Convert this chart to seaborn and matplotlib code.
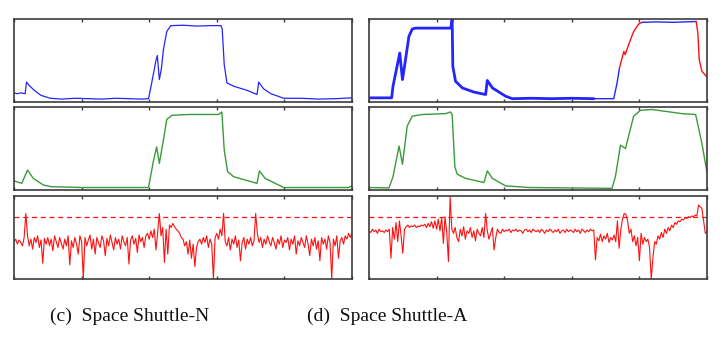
import numpy as np
import pandas as pd
import matplotlib
matplotlib.use("Agg")
import matplotlib.pyplot as plt
import seaborn as sns

# ---------------- data (normalised 0..1, x in 0..1000) ----------------
TL_x = [0, 10, 20, 33, 37, 45, 60, 80, 107, 140, 180, 220, 260, 300, 340, 380, 398, 405, 413, 420, 424,
        430, 436, 442, 452, 464, 500, 540, 580, 612, 616, 622, 630, 650, 690, 719, 724, 738, 760, 798,
        850, 900, 950, 1000]
TL_y = [0.11, 0.10, 0.11, 0.10, 0.24, 0.20, 0.14, 0.08, 0.045, 0.035, 0.045, 0.04, 0.035, 0.045, 0.04,
        0.035, 0.04, 0.18, 0.35, 0.50, 0.56, 0.27, 0.40, 0.63, 0.85, 0.92, 0.925, 0.915, 0.92, 0.92, 0.88,
        0.45, 0.23, 0.19, 0.14, 0.09, 0.24, 0.16, 0.10, 0.045, 0.045, 0.035, 0.04, 0.05]

ML_x = [0, 23, 40, 57, 87, 110, 200, 300, 398, 413, 422, 430, 442, 452, 467, 520, 605, 615, 622, 632,
        650, 719, 726, 743, 798, 900, 990, 1000]
ML_y = [0.11, 0.08, 0.24, 0.14, 0.06, 0.04, 0.03, 0.03, 0.03, 0.36, 0.52, 0.32, 0.60, 0.85, 0.90, 0.91,
        0.91, 0.94, 0.48, 0.22, 0.16, 0.08, 0.23, 0.14, 0.03, 0.03, 0.03, 0.05]

BL_y = [0.45, 0.48, 0.42, 0.47, 0.44, 0.40, 0.50, 0.79, 0.52, 0.40,
        0.48, 0.36, 0.50, 0.44, 0.52, 0.38, 0.47, 0.19, 0.49, 0.42,
        0.50, 0.40, 0.48, 0.34, 0.52, 0.45, 0.38, 0.50, 0.43, 0.36,
        0.48, 0.40, 0.52, 0.17, 0.46, 0.38, 0.50, 0.42, 0.30, 0.52,
        0.45, 0.00, 0.50, 0.40, 0.47, 0.53, 0.36, 0.48, 0.30, 0.50,
        0.44, 0.38, 0.52, 0.46, 0.28, 0.49, 0.40, 0.53, 0.44, 0.35,
        0.50, 0.42, 0.48, 0.36, 0.52, 0.45, 0.40, 0.50, 0.18, 0.47,
        0.52, 0.42, 0.49, 0.32, 0.53, 0.45, 0.50, 0.38, 0.52, 0.55,
        0.48, 0.58, 0.50, 0.60, 0.35, 0.56, 0.79, 0.52, 0.62, 0.20,
        0.60, 0.30, 0.65, 0.62, 0.67, 0.63, 0.60, 0.58, 0.55, 0.50,
        0.48, 0.40, 0.45, 0.30, 0.47, 0.25, 0.42, 0.15, 0.38, 0.45,
        0.48, 0.42, 0.50, 0.44, 0.52, 0.38, 0.48, 0.42, 0.00, 0.50,
        0.55, 0.48, 0.60, 0.52, 0.79, 0.45, 0.40, 0.50, 0.35, 0.48,
        0.42, 0.52, 0.38, 0.47, 0.22, 0.44, 0.50, 0.36, 0.48, 0.42,
        0.50, 0.40, 0.46, 0.79, 0.55, 0.44, 0.50, 0.38, 0.48, 0.42,
        0.52, 0.45, 0.40, 0.50, 0.44, 0.36, 0.48, 0.42, 0.52, 0.38,
        0.47, 0.44, 0.50, 0.35, 0.48, 0.42, 0.52, 0.30, 0.46, 0.40,
        0.50, 0.44, 0.38, 0.52, 0.42, 0.28, 0.48, 0.40, 0.50, 0.36,
        0.46, 0.22, 0.50, 0.42, 0.48, 0.36, 0.52, 0.44, 0.00, 0.48,
        0.40, 0.52, 0.25, 0.46, 0.50, 0.42, 0.52, 0.48, 0.55, 0.50,
        0.55]

TR_x = [0, 20, 40, 67, 71, 79, 91, 99, 108, 118, 128, 138, 180, 220, 242, 246, 248, 256, 276, 310,
        345, 350, 365, 404, 424, 480, 540, 600, 665, 700, 724, 734, 741, 754, 758, 768, 783, 798, 808,
        850, 900, 968, 973, 977, 985, 1000]
TR_y = [0.05, 0.05, 0.05, 0.05, 0.19, 0.35, 0.59, 0.27, 0.51, 0.79, 0.88, 0.89, 0.89, 0.89, 0.89, 1.0,
        0.43, 0.25, 0.17, 0.12, 0.09, 0.26, 0.17, 0.07, 0.04, 0.045, 0.04, 0.045, 0.04, 0.04, 0.04, 0.23,
        0.41, 0.61, 0.57, 0.69, 0.85, 0.94, 0.96, 0.965, 0.96, 0.97, 0.83, 0.51, 0.37, 0.30]
TR_noisy_end = 665
TR_anomalies = [(741, 808), (968, 1000)]

MR_x = [0, 59, 71, 89, 99, 113, 128, 158, 227, 241, 246, 254, 261, 286, 340, 350, 365, 404, 473, 719,
        729, 744, 759, 768, 783, 803, 837, 926, 966, 968, 985, 1000]
MR_y = [0.03, 0.025, 0.16, 0.53, 0.31, 0.77, 0.89, 0.91, 0.92, 0.94, 0.91, 0.28, 0.19, 0.14, 0.09, 0.23,
        0.14, 0.05, 0.03, 0.02, 0.16, 0.54, 0.50, 0.65, 0.89, 0.96, 0.97, 0.92, 0.91, 0.88, 0.56, 0.21]

BR_y = [0.58, 0.56, 0.60, 0.57, 0.59, 0.55, 0.60, 0.57, 0.58, 0.56,
        0.59, 0.57, 0.60, 0.25, 0.62, 0.48, 0.68, 0.45, 0.70, 0.52,
        0.31, 0.60, 0.63, 0.65, 0.62, 0.64, 0.63, 0.65, 0.62, 0.64,
        0.63, 0.65, 0.64, 0.66, 0.62, 0.67, 0.63, 0.69, 0.61, 0.70,
        0.60, 0.72, 0.58, 0.74, 0.43, 0.75, 0.56, 0.21, 0.99, 0.60,
        0.55, 0.62, 0.50, 0.45, 0.60, 0.52, 0.63, 0.48, 0.58, 0.55,
        0.62, 0.50, 0.58, 0.46, 0.60, 0.55, 0.52, 0.62, 0.50, 0.79,
        0.58, 0.48, 0.55, 0.62, 0.35, 0.50, 0.60, 0.56, 0.55, 0.60,
        0.57, 0.59, 0.58, 0.60, 0.56, 0.59, 0.58, 0.60, 0.57, 0.59,
        0.58, 0.55, 0.59, 0.60, 0.57, 0.59, 0.56, 0.60, 0.58, 0.57,
        0.59, 0.56, 0.60, 0.58, 0.55, 0.59, 0.57, 0.60, 0.58, 0.56,
        0.59, 0.57, 0.60, 0.55, 0.58, 0.59, 0.56, 0.60, 0.57, 0.59,
        0.58, 0.56, 0.60, 0.57, 0.59, 0.55, 0.60, 0.58, 0.56, 0.59,
        0.57, 0.60, 0.58, 0.59, 0.23, 0.50, 0.46, 0.54, 0.45, 0.52,
        0.48, 0.55, 0.44, 0.50, 0.47, 0.53, 0.45, 0.70, 0.37, 0.60,
        0.72, 0.79, 0.78, 0.70, 0.55, 0.60, 0.45, 0.52, 0.40, 0.50,
        0.22, 0.55, 0.42, 0.50, 0.45, 0.48, 0.38, 0.00, 0.25, 0.45,
        0.42, 0.52, 0.48, 0.56, 0.50, 0.60, 0.55, 0.62, 0.58, 0.65,
        0.62, 0.68, 0.66, 0.70, 0.69, 0.72, 0.71, 0.74, 0.73, 0.75,
        0.74, 0.76, 0.75, 0.77, 0.76, 0.89, 0.87, 0.85, 0.70, 0.55,
        0.57]

SCORE_X = list(range(0, 1001, 5))
THRESHOLD = 0.75
XTICKS = [0, 200, 400, 600, 800, 1000]
CAPTIONS = ["(c)  Space Shuttle-N", "(d)  Space Shuttle-A"]

# ---------------- style ----------------
sns.set_style("white")
plt.rcParams['font.family'] = ['Liberation Serif', 'DejaVu Serif']

BLUE = "#2424ff"
GREEN = "#3a9a3a"
RED = "#ff1010"
FRAME = "#3c3c3c"

W, H = 723, 338
fig = plt.figure(figsize=(W / 100, H / 100), dpi=100)

cols_px = [14, 369]
rows_px = [(19, 102), (107, 190), (196, 279)]
panel_w = 338

axes = {}
for c, x0 in enumerate(cols_px):
    for r, (t, b) in enumerate(rows_px):
        ax = fig.add_axes([x0 / W, 1 - b / H, panel_w / W, (b - t) / H])
        axes[(r, c)] = ax


def line(ax, x, y, color, lw=0.9):
    df = pd.DataFrame({"x": x, "y": y})
    sns.lineplot(data=df, x="x", y="y", ax=ax, color=color, linewidth=lw,
                 estimator=None, sort=False, legend=False)


# left column
line(axes[(0, 0)], TL_x, TL_y, BLUE)
line(axes[(1, 0)], ML_x, ML_y, GREEN, 1.0)
line(axes[(2, 0)], SCORE_X, BL_y, RED, 0.8)

# right column top: noisy band, normal, anomaly segments
trx = np.array(TR_x)
tr_y = np.array(TR_y)
m = trx <= TR_noisy_end
line(axes[(0, 1)], trx[m], tr_y[m], BLUE, 2.0)
bounds = [TR_noisy_end]
for a, b in TR_anomalies:
    bounds += [a, b]
bounds.append(1000)
for i in range(len(bounds) - 1):
    lo, hi = bounds[i], bounds[i + 1]
    if hi <= lo:
        continue
    mm = (trx >= lo) & (trx <= hi)
    is_anom = any(lo >= a and hi <= b for a, b in TR_anomalies)
    line(axes[(0, 1)], trx[mm], tr_y[mm], RED if is_anom else BLUE, 1.0)

line(axes[(1, 1)], MR_x, MR_y, GREEN, 1.0)
line(axes[(2, 1)], SCORE_X, BR_y, RED, 0.8)

for c in range(2):
    axes[(2, c)].axhline(THRESHOLD, color=RED, lw=0.9, ls=(0, (4, 3)))

for (r, c), ax in axes.items():
    ax.set_xlim(0, 1000)
    ax.set_ylim(0, 1.0)
    ax.set_xticks(XTICKS)
    ax.set_yticks([])
    ax.tick_params(axis='x', direction='in', length=2.5, width=1.0, color=FRAME,
                   top=True, bottom=True, labelbottom=False, labeltop=False)
    ax.set_xlabel("")
    ax.set_ylabel("")
    for s in ax.spines.values():
        s.set_color(FRAME)
        s.set_linewidth(1.2)
        s.set_visible(True)

fig.text(50 / W, 1 - 316 / H, CAPTIONS[0], fontsize=14, ha='left', va='center', color='#111111')
fig.text(307 / W, 1 - 316 / H, CAPTIONS[1], fontsize=14, ha='left', va='center', color='#111111')

fig.savefig("out.png", dpi=100, facecolor="white")
